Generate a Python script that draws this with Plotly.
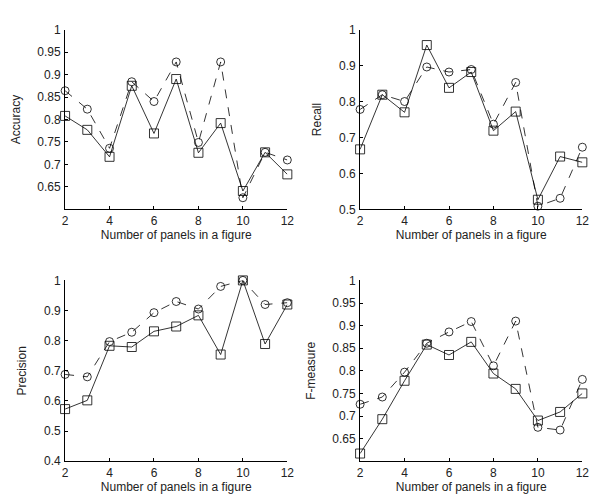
import plotly.graph_objects as go

panels = [2, 3, 4, 5, 6, 7, 8, 9, 10, 11, 12]

accuracy_circle = [0.864, 0.823, 0.736, 0.884, 0.840, 0.928, 0.749, 0.928, 0.626, 0.727, 0.710]
accuracy_square = [0.808, 0.777, 0.717, 0.875, 0.769, 0.890, 0.726, 0.792, 0.641, 0.727, 0.678]

recall_circle = [0.778, 0.819, 0.800, 0.896, 0.882, 0.889, 0.737, 0.853, 0.509, 0.531, 0.673]
recall_square = [0.667, 0.819, 0.770, 0.957, 0.838, 0.882, 0.719, 0.772, 0.527, 0.647, 0.631]

precision_circle = [0.688, 0.680, 0.797, 0.828, 0.893, 0.930, 0.905, 0.980, 1.000, 0.920, 0.926]
precision_square = [0.573, 0.602, 0.783, 0.779, 0.831, 0.847, 0.884, 0.754, 1.000, 0.789, 0.920]

fmeasure_circle = [0.726, 0.742, 0.797, 0.861, 0.886, 0.909, 0.811, 0.910, 0.675, 0.669, 0.781]
fmeasure_square = [0.617, 0.693, 0.778, 0.858, 0.835, 0.864, 0.794, 0.760, 0.690, 0.709, 0.750]

panels_info = [
    ("Accuracy", accuracy_circle, accuracy_square, [0.6, 1.0], [0.65, 0.7, 0.75, 0.8, 0.85, 0.9, 0.95, 1.0]),
    ("Recall", recall_circle, recall_square, [0.5, 1.0], [0.5, 0.6, 0.7, 0.8, 0.9, 1.0]),
    ("Precision", precision_circle, precision_square, [0.4, 1.0], [0.4, 0.5, 0.6, 0.7, 0.8, 0.9, 1.0]),
    ("F-measure", fmeasure_circle, fmeasure_square, [0.6, 1.0], [0.65, 0.7, 0.75, 0.8, 0.85, 0.9, 0.95, 1.0]),
]

W, H = 602, 503
xdoms = [[55 / W, 281 / W], [355 / W, 581 / W]]
ydoms = [[(H - 200) / H, (H - 15) / H], [(H - 459) / H, (H - 273) / H]]

fig = go.Figure()
font = dict(family="Liberation Sans, Arial, sans-serif", size=12, color="#222")

for i, (name, circ, sq, yr, yt) in enumerate(panels_info):
    r, c = divmod(i, 2)
    sfx = "" if i == 0 else str(i + 1)
    xa, ya = "x" + sfx, "y" + sfx
    fig.add_trace(go.Scatter(
        x=panels, y=circ, xaxis=xa, yaxis=ya, mode="lines+markers",
        line=dict(color="black", width=0.8, dash="dash"),
        marker=dict(symbol="circle-open", size=8, color="black", line=dict(width=0.8)),
        cliponaxis=False, showlegend=False))
    fig.add_trace(go.Scatter(
        x=panels, y=sq, xaxis=xa, yaxis=ya, mode="lines+markers",
        line=dict(color="black", width=0.8),
        marker=dict(symbol="square-open", size=9, color="black", line=dict(width=0.8)),
        cliponaxis=False, showlegend=False))
    ticktext = [("%g" % v) for v in yt]
    fig.layout["xaxis" + sfx] = dict(
        domain=xdoms[c], anchor=ya, range=[2, 12], tickvals=[2, 4, 6, 8, 10, 12],
        showline=True, linecolor="black", linewidth=1, ticks="inside", ticklen=3,
        tickcolor="black", showgrid=False, zeroline=False, tickfont=font,
        ticklabelstandoff=0,
        title=dict(text="Number of panels in a figure", font=font, standoff=2))
    fig.layout["yaxis" + sfx] = dict(
        domain=ydoms[r], anchor=xa, range=yr, tickvals=yt, ticktext=ticktext,
        showline=True, linecolor="black", linewidth=1, ticks="inside", ticklen=3,
        tickcolor="black", showgrid=False, zeroline=False, tickfont=font,
        ticklabelstandoff=1,
        title=dict(text=name, font=font, standoff=14))

fig.update_layout(width=W, height=H, margin=dict(l=0, r=0, t=0, b=0),
                  paper_bgcolor="white", plot_bgcolor="white", font=font)
fig.write_html("out.html")
